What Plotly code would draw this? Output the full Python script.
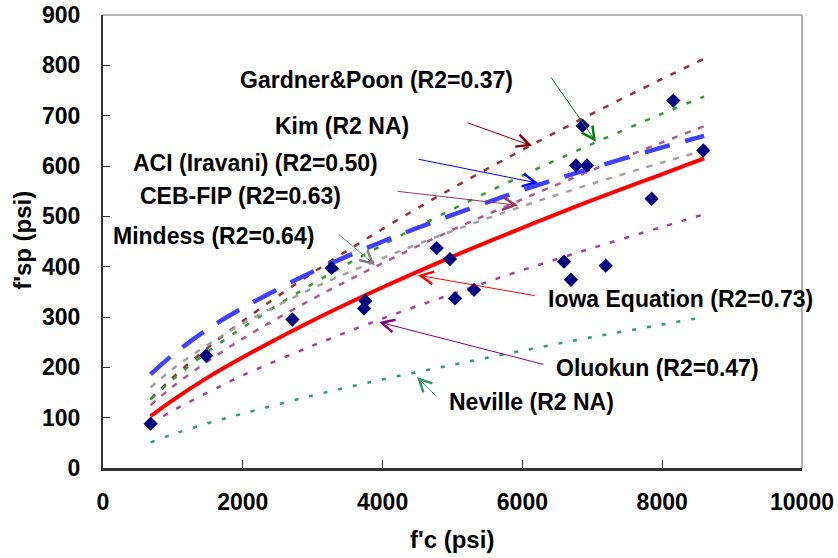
import plotly.graph_objects as go

# Measured data points (f'c, f'sp) in psi
fc = [682, 1475, 2710, 3270, 3753, 3734, 4774, 4964, 5036, 5308,
      6595, 6695, 7191, 6862, 6767, 6924, 8159, 8588, 7848]
fsp = [88, 223, 295, 397, 332, 317, 437, 415, 337, 354,
       410, 374, 402, 680, 601, 601, 730, 631, 535]

# Prediction curves
curve_fc = [680, 1000, 1500, 2000, 3000, 4000, 5000, 6000, 7000, 8000, 8600]
kim = [137, 180, 239, 292, 388, 475, 556, 632, 704, 773, 813]
gardner = [136, 176, 231, 279, 366, 443, 514, 581, 644, 704, 738]
aci = [186, 225, 276, 318, 390, 450, 503, 552, 596, 637, 660]
ceb = [125, 162, 212, 257, 336, 407, 473, 534, 592, 647, 679]
mindess = [160, 197, 245, 287, 357, 417, 471, 520, 565, 607, 631]
iowa = [103, 135, 180, 220, 293, 359, 420, 477, 532, 584, 615]
oluokun = [87, 114, 150, 184, 243, 297, 346, 393, 437, 479, 504]
neville = [51, 67, 89, 108, 144, 176, 205, 233, 260, 285, 300]

x_ticks = [0, 2000, 4000, 6000, 8000, 10000]
x_tick_text = ["0", "2000", "4000", "6000", "8000", "10000"]
y_ticks = [0, 100, 200, 300, 400, 500, 600, 700, 800, 900]
y_tick_text = ["0", "100", "200", "300", "400", "500", "600", "700", "800", "900"]

labels = ["Gardner&Poon (R2=0.37)", "Kim (R2 NA)", "ACI (Iravani) (R2=0.50)",
          "CEB-FIP (R2=0.63)", "Mindess (R2=0.64)", "Iowa Equation (R2=0.73)",
          "Oluokun (R2=0.47)", "Neville (R2 NA)"]
label_x = [3906, 3419, 2175, 1960, 1574, 8255, 7933, 6137]
label_y = [771, 680, 606, 540, 461, 336, 199, 131]
arrow_tail_x = [6395, 5193, 4492, 4192, 3348, 6195, 6323, 4793]
arrow_tail_y = [779, 687, 614, 550, 467, 342, 205, 139]
arrow_tip_x = [7053, 6137, 6223, 5937, 3891, 4506, 3948, 4492]
arrow_tip_y = [648, 640, 566, 522, 403, 383, 290, 181]
arrow_colors = ["#008000", "#800000", "#0000FF", "#993366", "#808080",
                "#FF0000", "#800080", "#339966"]

FONT = "Liberation Sans, Arial, sans-serif"

fig = go.Figure()

series = [
    ("Kim", kim, "#993333", "6px,9px", 2.5),
    ("Gardner&Poon", gardner, "#339933", "5px,10px", 2.5),
    ("CEB-FIP", ceb, "#B05A90", "6px,8px", 2.5),
    ("Mindess", mindess, "#A0A0A0", "6px,8px", 2.5),
    ("ACI", aci, "#4040FF", "26px,16px", 4.5),
    ("Oluokun", oluokun, "#A040A0", "5px,10px", 2.5),
    ("Neville", neville, "#2E9E6A", "4px,11px", 2.5),
]
for name, ys, col, dash, w in series:
    fig.add_trace(go.Scatter(x=curve_fc, y=ys, mode="lines", name=name,
                             line=dict(color=col, dash=dash, width=w, shape="spline"),
                             showlegend=False))

fig.add_trace(go.Scatter(x=curve_fc, y=iowa, mode="lines", name="Iowa",
                         line=dict(color="#FF0000", width=4, shape="spline"),
                         showlegend=False))

fig.add_trace(go.Scatter(x=fc, y=fsp, mode="markers", name="Data",
                         marker=dict(symbol="diamond", size=11, color="#000080"),
                         showlegend=False))

annotations = []
for i, t in enumerate(labels):
    annotations.append(dict(x=label_x[i], y=label_y[i], xref="x", yref="y",
                            text="<b>" + t + "</b>", showarrow=False,
                            xanchor="center", yanchor="middle",
                            font=dict(family=FONT, size=23, color="black")))
    annotations.append(dict(x=arrow_tip_x[i], y=arrow_tip_y[i], xref="x", yref="y",
                            ax=arrow_tail_x[i], ay=arrow_tail_y[i],
                            axref="x", ayref="y", text="", showarrow=True,
                            arrowhead=5, arrowsize=2.5, arrowwidth=1,
                            arrowcolor=arrow_colors[i]))

annotations.append(dict(x=-0.115, y=0.503, xref="paper", yref="paper",
                        text="<b>f'sp (psi)</b>", showarrow=False, textangle=-90,
                        xanchor="center", yanchor="middle",
                        font=dict(family=FONT, size=24, color="black")))
annotations.append(dict(x=0.4993, y=-0.157, xref="paper", yref="paper",
                        text="<b>f'c (psi)</b>", showarrow=False,
                        xanchor="center", yanchor="middle",
                        font=dict(family=FONT, size=24, color="black")))

shapes = [
    dict(type="line", xref="paper", yref="paper", x0=0, x1=1, y0=1, y1=1,
         line=dict(color="#999999", width=1.5)),
    dict(type="line", xref="paper", yref="paper", x0=1, x1=1, y0=0, y1=1,
         line=dict(color="#999999", width=1.5)),
]

fig.update_layout(
    width=838, height=558, autosize=False,
    margin=dict(l=103, r=36, t=15, b=90, autoexpand=False),
    plot_bgcolor="white", paper_bgcolor="white",
    showlegend=False,
    annotations=annotations, shapes=shapes,
    xaxis=dict(range=[0, 10000], tickvals=x_ticks, ticktext=x_tick_text,
               automargin=False, showgrid=False, zeroline=False,
               showline=True, linecolor="#333333", linewidth=2.5,
               ticks="inside", ticklen=8, tickcolor="#333333", tickwidth=1,
               ticklabelstandoff=12,
               tickfont=dict(family=FONT, size=23, color="black", weight="bold")),
    yaxis=dict(range=[0, 900], tickvals=y_ticks, ticktext=y_tick_text,
               automargin=False, showgrid=False, zeroline=False,
               showline=True, linecolor="#333333", linewidth=2,
               ticks="inside", ticklen=7, tickcolor="#333333", tickwidth=1,
               ticklabelstandoff=16,
               tickfont=dict(family=FONT, size=23, color="black", weight="bold")),
)

fig.write_html("out.html", config={"displayModeBar": False})
